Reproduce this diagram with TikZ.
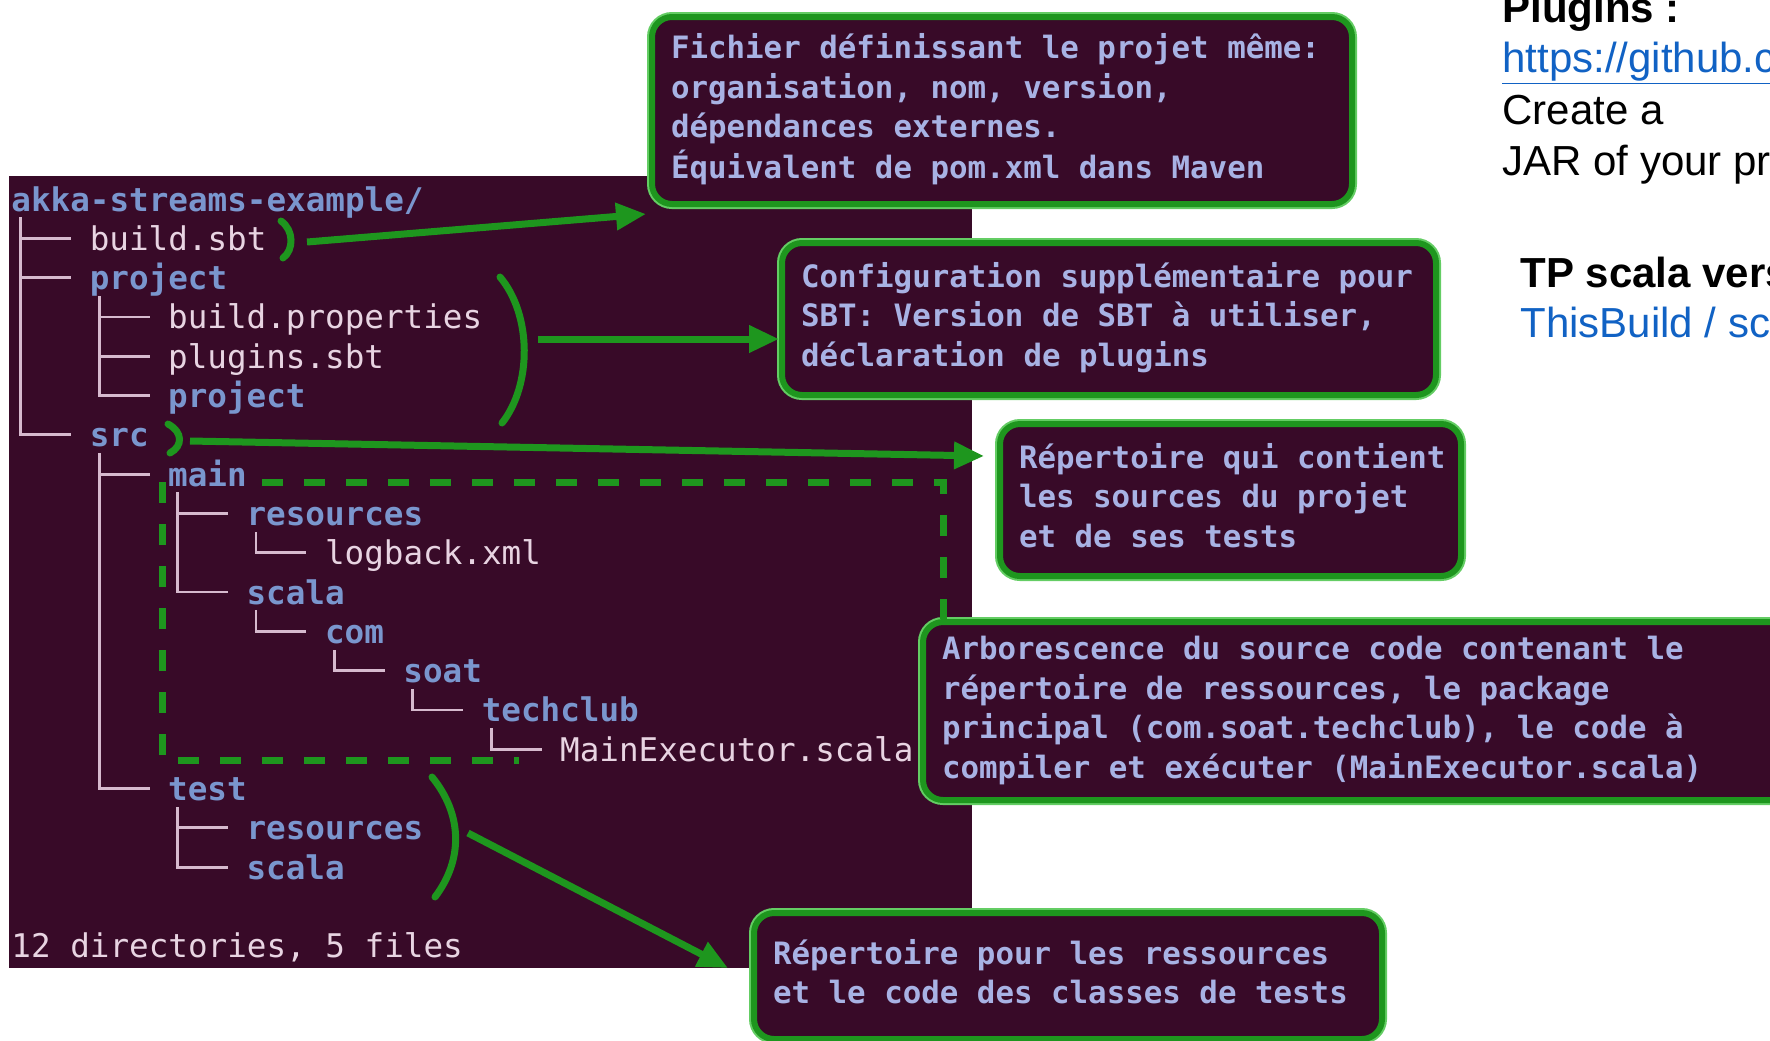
\documentclass[tikz,border=0pt]{standalone}
\usepackage{fontspec}
\setmainfont{Liberation Sans}
\setmonofont{DejaVu Sans Mono}
\usepackage{xcolor}
\usetikzlibrary{arrows.meta,positioning,calc}

\definecolor{termbg}{RGB}{56,10,40}
\definecolor{grn}{RGB}{30,150,30}
\definecolor{grnlt}{RGB}{100,205,100}
\definecolor{dirc}{RGB}{122,150,206}
\definecolor{filec}{RGB}{232,212,226}
\definecolor{treec}{RGB}{214,186,206}
\definecolor{notec}{RGB}{168,178,228}
\definecolor{linkc}{RGB}{17,98,196}

\newcommand{\notelines}[1]{\spaceskip=0.602em\relax\begin{tabular}{@{}l@{}}#1\end{tabular}}

\begin{document}
\begin{tikzpicture}[
    x=0.5pt, y=-0.5pt,
    filetx/.style={inner sep=0pt, anchor=base west, text=filec, font=\ttfamily\fontsize{16.3pt}{19.6pt}\selectfont},
    dirtx/.style={filetx, text=dirc, font=\ttfamily\bfseries\fontsize{16.3pt}{19.6pt}\selectfont},
    twig/.style={draw=treec, line width=1.4pt, line cap=rect},
    notebox/.style={rectangle, rounded corners=10pt, draw=grn, line width=3pt, fill=termbg, text=notec, align=left, anchor=north west, inner xsep=9.5pt, inner ysep=4pt, font=\ttfamily\bfseries\fontsize{15.4pt}{19.75pt}\selectfont, preaction={draw=grnlt, line width=5pt}},
    brk/.style={draw=grn, line width=3.5pt, line cap=round},
    arr/.style={-{Triangle[length=15pt,width=13pt]}, draw=grn, line width=3.5pt},
    dsh/.style={draw=grn, line width=3.5pt, dash pattern=on 10.5pt off 10.5pt},
    slide/.style={inner sep=0pt, anchor=base west, font=\fontsize{21pt}{25pt}\selectfont}
]
    \useasboundingbox (0,0) rectangle (1770,1040);
    \clip (0,0) rectangle (1770,1040);

    \fill[termbg] (9,176) rectangle (972,968);

    \node[dirtx] (root) at (11,211) {akka-streams-example/};
    \foreach \rw/\lv/\nm/\st in {1/1/build.sbt/filetx, 2/1/project/dirtx, 3/2/build.properties/filetx, 4/2/plugins.sbt/filetx, 5/2/project/dirtx, 6/1/src/dirtx, 7/2/main/dirtx, 8/3/resources/dirtx, 9/4/logback.xml/filetx, 10/3/scala/dirtx, 11/4/com/dirtx, 12/5/soat/dirtx, 13/6/techclub/dirtx, 14/7/MainExecutor.scala/filetx, 15/2/test/dirtx, 16/3/resources/dirtx, 17/3/scala/dirtx} {
        \node[\st] (e\rw) at ({11+4*\lv*19.6},{211+\rw*39.3}) {\nm};
        \draw[twig] ({11+(4*\lv-3.5)*19.6},{199+\rw*39.3}) -- ++(49,0);
    }
    \foreach \rw/\lv/\lst in {0/0/6, 2/1/5, 6/1/15, 7/2/10, 8/3/9, 10/3/11, 11/4/12, 12/5/13, 13/6/14, 15/2/17}
        \draw[twig] ({11+(4*\lv+0.5)*19.6},{199+(\rw+0.5)*39.3}) -- ({11+(4*\lv+0.5)*19.6},{199+\lst*39.3});
    \node[filetx] (sum) at (11,{211+19*39.3}) {12 directories, 5 files};

    \node[slide, font=\bfseries\fontsize{21pt}{25pt}\selectfont] (s1) at (1502,22) {Plugins :};
    \node[slide, text=linkc] (s2) at (1502,72) {\underline{https://github.c}};
    \node[slide] (s3) at (1502,124) {Create a};
    \node[slide] (s4) at (1502,175) {JAR of your pr};
    \node[slide, font=\bfseries\fontsize{21pt}{25pt}\selectfont] (s5) at (1520,287) {TP scala vers};
    \node[slide, text=linkc] (s6) at (1520,337) {ThisBuild / sc};

    \node[notebox, text width=331pt, minimum height=93.5pt] (c1) at (649,14) {\notelines{Fichier définissant le projet même:\\organisation, nom, version,\\dépendances externes.\\Équivalent de pom.xml dans Maven}};
    \node[notebox, text width=308pt, minimum height=76pt] (c2) at (779,240) {\notelines{Configuration supplémentaire pour\\SBT: Version de SBT à utiliser,\\déclaration de plugins}};
    \node[notebox, text width=211.5pt, minimum height=76pt] (c3) at (997,421) {\notelines{Répertoire qui contient\\les sources du projet\\et de ses tests}};
    \node[notebox, text width=416pt, minimum height=89pt] (c4) at (920,619) {\notelines{Arborescence du source code contenant le\\répertoire de ressources, le package\\principal (com.soat.techclub), le code à\\compiler et exécuter (MainExecutor.scala)}};
    \node[notebox, text width=295pt, minimum height=63pt] (c5) at (751,910) {\notelines{Répertoire pour les ressources\\et le code des classes de tests}};

    \coordinate (a1) at (307,242);
    \coordinate (a2) at (538,339);
    \coordinate (a3) at (190,441);
    \coordinate (a5) at (468,833);
    \coordinate (dtr) at (943,482);

    \draw[brk] (281,221) .. controls (294,230) and (294,250) .. (283,258);
    \draw[brk] (500,277) .. controls (532,315) and (532,385) .. (502,423);
    \draw[brk] (168,424) .. controls (183,432) and (183,446) .. (170,453);
    \draw[brk] (432,777) .. controls (463,815) and (463,860) .. (435,897);

    \draw[dsh] (262,482) -- (dtr) -- (dtr |- c4.north);
    \draw[dsh] (162,482) -- (162,760) -- (519,760);

    \draw[arr] (a1) -- ([xshift=-1.5pt,yshift=-3.5pt]c1.south west);
    \draw[arr] (a2) -- (a2 -| c2.west);
    \draw[arr] (a3) -- ([xshift=-6.5pt,yshift=-17.5pt]c3.north west);
    \draw[arr] (a5) -- ([xshift=-11.5pt,yshift=-29pt]c5.north west);
\end{tikzpicture}
\end{document}
